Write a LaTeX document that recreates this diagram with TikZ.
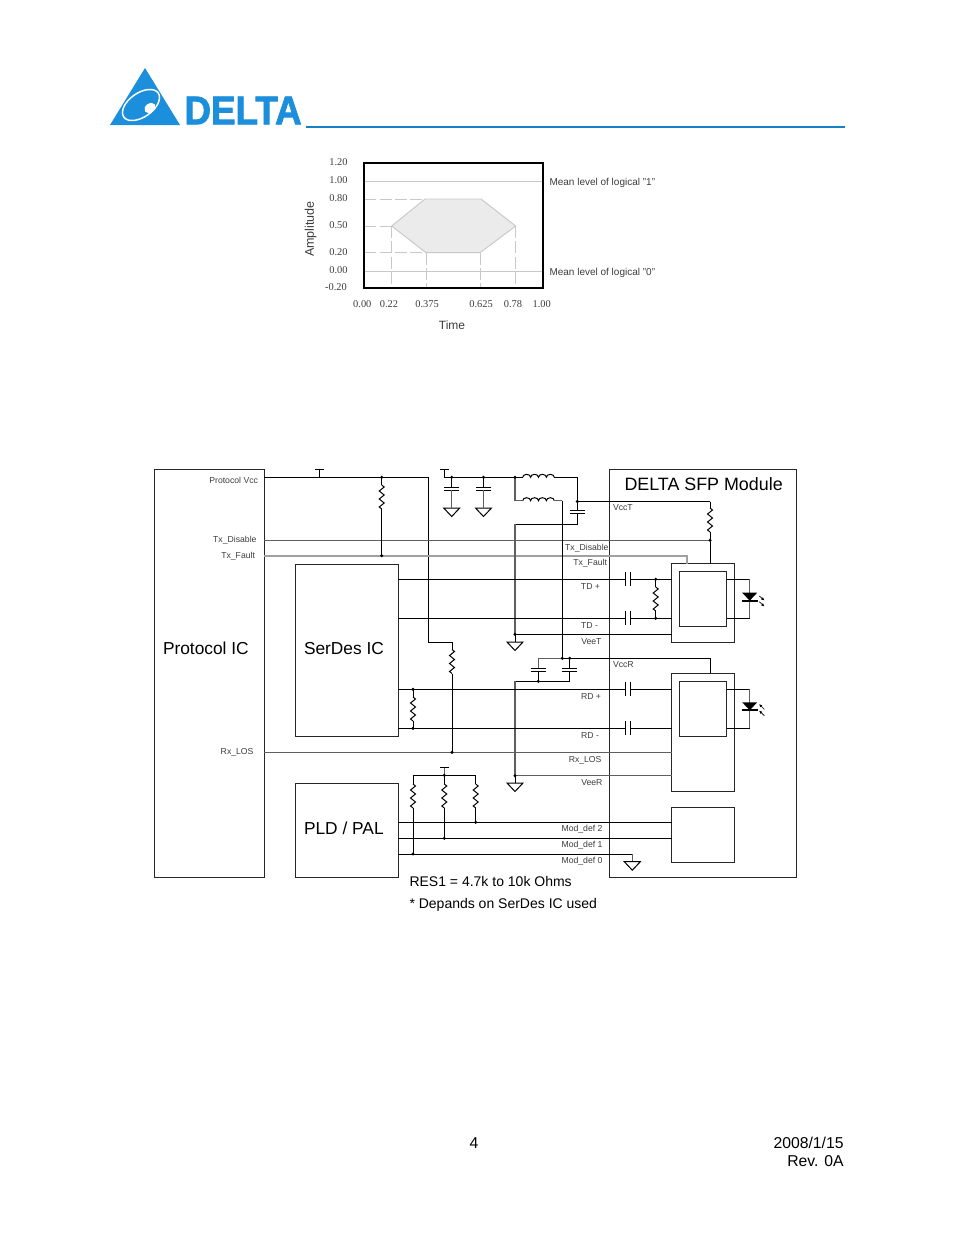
\documentclass[tikz,border=0pt]{standalone}
\usepackage{fontspec}
\setmainfont{Liberation Sans}
\newfontfamily\chartfont{Liberation Serif}
\newfontfamily\logofont[FakeBold=2]{Liberation Sans Bold}
\usetikzlibrary{arrows.meta}

\definecolor{deltablue}{RGB}{27,143,220}
\definecolor{wiregray}{RGB}{95,95,95}
\definecolor{faultgray}{RGB}{160,160,160}
\definecolor{chartgray}{RGB}{200,200,200}
\definecolor{labelgray}{RGB}{60,60,60}

\tikzset{every picture/.style={line width=0.75pt}}
\tikzset{
	wire/.style={draw=black,line width=0.75pt},
	disableline/.style={draw=wiregray,line width=0.9pt},
	faultline/.style={draw=faultgray,line width=1.3pt},
	greyline/.style={draw=wiregray,line width=0.9pt},
	boxnode/.style={draw=black!85,line width=0.7pt,anchor=north west,inner sep=0pt,outer sep=0pt},
	smalltext/.style={font=\fontsize{6.5}{7}\selectfont,text=labelgray,inner sep=0pt},
	bigtext/.style={font=\fontsize{13}{15}\selectfont,anchor=west,inner sep=0pt},
	notetext/.style={font=\fontsize{10.5}{12}\selectfont,anchor=west,inner sep=0pt},
	foottext/.style={font=\fontsize{11.8}{14}\selectfont,inner sep=0pt},
	charttick/.style={font=\chartfont\fontsize{7.8}{9}\selectfont,text=labelgray,inner sep=0pt},
	chartlabel/.style={font=\fontsize{7.5}{9}\selectfont,text=labelgray,anchor=west,inner sep=0pt},
	chartline/.style={draw=chartgray,line width=0.7pt},
	chartdash/.style={draw=chartgray,line width=0.7pt,dash pattern=on 9pt off 2.5pt},
	resv/.pic={
		\draw [wire] (0,0) -- (2.5,2) -- (-2.5,6) -- (2.5,10) -- (-2.5,14) -- (2.5,18) -- (-2.5,22) -- (0,24) ;
		\coordinate (-a) at (0,0);
		\coordinate (-b) at (0,24);
	},
	capv/.pic={
		\draw [wire] (-7.5,-1.5) -- (7.5,-1.5) ;
		\draw [wire] (-7.5,1.5) -- (7.5,1.5) ;
		\coordinate (-a) at (0,-1.5);
		\coordinate (-b) at (0,1.5);
	},
	caph/.pic={
		\draw [wire] (-2.4,-7) -- (-2.4,7) ;
		\draw [wire] (2.4,-7) -- (2.4,7) ;
		\coordinate (-a) at (-2.4,0);
		\coordinate (-b) at (2.4,0);
	},
	gndpic/.pic={
		\draw [wire] (-8,0) -- (8,0) -- (0,8.5) -- cycle ;
	},
	railpic/.pic={
		\draw [wire] (-4.5,0) -- (4.5,0) ;
		\coordinate (-a) at (0,0);
	},
	coilpic/.pic={
		\draw [wire] (0,0) arc (180:360:3.95 and 3) arc (180:360:3.95 and 3) arc (180:360:3.95 and 3) arc (180:360:3.95 and 3) ;
		\coordinate (-a) at (0,0);
		\coordinate (-b) at (31.6,0);
	},
	ledpic/.pic={
		\fill (-7.5,0) -- (7.5,0) -- (0,8) -- cycle ;
		\draw [line width=1.5pt] (-8,8) -- (8,8) ;
	},
}

\begin{document}
\begin{tikzpicture}[x=0.75pt,y=-0.75pt]
	\useasboundingbox (0,0) rectangle (954,1235);

	% Draw logo and header line
	\fill [deltablue] (145,68) -- (180,125) -- (110,125) -- cycle ;
	\draw [white,line width=1.1pt,rotate around={35:(141,105)}] (141,105) ellipse (21 and 12);
	\fill [white,rotate around={35:(150,108)}] (150,108) ellipse (6 and 4.5);
	\node (logotext) [anchor=west,inner sep=0pt,text=deltablue,font=\logofont\fontsize{30}{32}\selectfont,xscale=0.92,transform shape] at (184,110.5) {DELTA};
	\coordinate (headera) at (306,127);
	\coordinate (headerb) at (845,127);
	\draw [deltablue!90!black,line width=1.4pt] (headera) -- (headerb) ;

	% Draw mask chart
	\coordinate (hexa) at (391.7,226);
	\coordinate (hexb) at (425,199);
	\coordinate (hexc) at (481,199);
	\coordinate (hexd) at (515.7,226);
	\coordinate (hexe) at (480,252.7);
	\coordinate (hexf) at (426,252.7);
	\fill [black!8] (hexa) -- (hexb) -- (hexc) -- (hexd) -- (hexe) -- (hexf) -- cycle ;
	\draw [chartline] (hexa) -- (hexb) -- (hexc) -- (hexd) -- (hexe) -- (hexf) -- cycle ;
	\draw [chartline] (364.3,181) -- (543.3,181) ;
	\draw [chartline] (364.3,271) -- (543.3,271) ;
	\draw [chartdash] (364.3,199) -- (hexb) ;
	\draw [chartdash] (364.3,226) -- (hexa) ;
	\draw [chartdash] (364.3,252.7) -- (hexf) ;
	\draw [chartdash] (hexa) -- (391.7,288.3) ;
	\draw [chartdash] (hexf) -- (426,288.3) ;
	\draw [chartdash] (hexe) -- (480,288.3) ;
	\draw [chartdash] (hexd) -- (515.7,288.3) ;
	\node (chartframe) [boxnode,draw=black,line width=1.4pt,minimum width=134.25pt,minimum height=93.75pt] at (364.3,163.3) {};

	\node (ytick1) [charttick] at (338.5,161.7) {1.20};
	\node (ytick2) [charttick] at (338.5,180) {1.00};
	\node (ytick3) [charttick] at (338.5,198) {0.80};
	\node (ytick4) [charttick] at (338.5,225) {0.50};
	\node (ytick5) [charttick] at (338.5,252) {0.20};
	\node (ytick6) [charttick] at (338.5,270) {0.00};
	\node (ytick7) [charttick] at (336,287.5) {-0.20};
	\node (xtick1) [charttick] at (362.3,304) {0.00};
	\node (xtick2) [charttick] at (389,304) {0.22};
	\node (xtick3) [charttick] at (427,304) {0.375};
	\node (xtick4) [charttick] at (481,304) {0.625};
	\node (xtick5) [charttick] at (513,304) {0.78};
	\node (xtick6) [charttick] at (541.7,304) {1.00};
	\node (meanone) [chartlabel] at (549,182.5) {Mean level of logical "1"};
	\node (meanzero) [chartlabel] at (549,272.5) {Mean level of logical "0"};
	\node (timelabel) [font=\fontsize{9}{11}\selectfont,text=labelgray,inner sep=0pt] at (452,325.7) {Time};
	\node (amplabel) [font=\fontsize{9.4}{11}\selectfont,text=labelgray,inner sep=0pt,rotate=90] at (310.7,229) {Amplitude};

	% Draw main blocks
	\node (protocol) [boxnode,minimum width=82.5pt,minimum height=306pt] at (154.7,469.7) {};
	\node (serdes) [boxnode,minimum width=76.9pt,minimum height=129.4pt] at (295.5,564) {};
	\node (pld) [boxnode,minimum width=76.9pt,minimum height=70.6pt] at (295.5,783.5) {};
	\node (module) [boxnode,minimum width=140.8pt,minimum height=306pt] at (609,469.7) {};
	\node (txbox) [boxnode,minimum width=47pt,minimum height=59pt] at (671.7,563.5) {};
	\node (txinner) [boxnode,minimum width=35.5pt,minimum height=41.2pt] at (679.3,571.3) {};
	\node (rxbox) [boxnode,minimum width=47pt,minimum height=88.5pt] at (671.7,673.3) {};
	\node (rxinner) [boxnode,minimum width=35.5pt,minimum height=41.2pt] at (679.3,681.3) {};
	\node (modbox) [boxnode,minimum width=47pt,minimum height=41.2pt] at (671.7,807.3) {};

	% Draw protocol vcc rail
	\coordinate (vcca) at (264.3,477.3);
	\coordinate (vccb) at (428.5,477.3);
	\coordinate (vccc) at (428.5,642);
	\coordinate (vccd) at (452,642);
	\coordinate (losa) at (264.3,752.3);
	\coordinate (losj) at (452,752.3);
	\coordinate (losb) at (671.7,752.3);
	\coordinate (disa) at (264.3,540.3);
	\coordinate (dist) at (710,540.3);
	\coordinate (faua) at (264.3,555.7);
	\coordinate (fauj) at (381.7,555.7);
	\coordinate (faub) at (687,555.7);
	\coordinate (fauc) at (687,563.5);
	\coordinate (vccj) at (381.7,477.3);
	\coordinate (railv) at (319.3,477.3);
	\draw [wire] (vcca) -- (vccb) -- (vccc) -- (vccd) ;
	\pic (rlos) at (452,649.5) {resv};
	\draw [wire] (vccd) -- (rlos-a) ;
	\draw [wire] (rlos-b) -- (losj) ;
	\draw [greyline] (losa) -- (losb) ;
	\draw [disableline] (disa) -- (dist) ;
	\draw [faultline] (faua) -- (faub) -- (fauc) ;
	\pic (rfault) at (381.7,485) {resv};
	\draw [wire] (vccj) -- (rfault-a) ;
	\draw [wire] (rfault-b) -- (fauj) ;
	\pic (railp) at (319.3,469.3) {railpic};
	\draw [wire] (railp-a) -- (railv) ;

	% Draw filter on the tx supply
	\coordinate (fila) at (444.5,477.3);
	\coordinate (filb) at (451.7,477.3);
	\coordinate (filc) at (483.5,477.3);
	\coordinate (fild) at (515,477.3);
	\coordinate (file) at (577.3,477.3);
	\coordinate (filf) at (515,500.7);
	\coordinate (vcct) at (577.3,501.5);
	\coordinate (vcctb) at (710,501.5);
	\coordinate (fila2) at (562.3,500.7);
	\coordinate (filg) at (562.3,658.3);
	\pic (railf) at (444.5,469) {railpic};
	\draw [wire] (railf-a) -- (fila) -- (fild) ;
	\pic (cfa) at (451.7,488.8) {capv};
	\pic (cfb) at (483.5,488.8) {capv};
	\pic (gfa) at (451.7,508) {gndpic};
	\pic (gfb) at (483.5,508) {gndpic};
	\draw [wire] (filb) -- (cfa-a) ;
	\draw [wire] (filc) -- (cfb-a) ;
	\draw [greyline] (cfa-b) -- (451.7,508) ;
	\draw [greyline] (cfb-b) -- (483.5,508) ;
	\pic (coila) at (522.7,477.3) {coilpic};
	\pic (coilb) at (522.7,500.7) {coilpic};
	\draw [wire] (fild) -- (coila-a) ;
	\draw [wire] (coila-b) -- (file) -- (vcct) -- (vcctb) ;
	\draw [greyline] (fild) -- (filf) -- (coilb-a) ;
	\draw [greyline] (coilb-b) -- (fila2) ;
	\draw [wire] (fila2) -- (filg) ;

	% Draw vcc and vee of the module
	\pic (cvt) at (577.3,512.4) {capv};
	\coordinate (veea) at (577.3,524.3);
	\coordinate (veeb) at (515,524.3);
	\coordinate (veet) at (515,634.3);
	\coordinate (veetb) at (671.7,634.3);
	\coordinate (vcta) at (710,563.5);
	\draw [wire] (vcct) -- (cvt-a) ;
	\draw [wire] (cvt-b) -- (veea) -- (veeb) ;
	\draw [greyline] (veeb) -- (veet) ;
	\draw [wire] (veet) -- (veetb) ;
	\pic (gvt) at (515,642) {gndpic};
	\draw [wire] (veet) -- (515,642) ;
	\pic (rvt) at (710,508) {resv};
	\draw [wire] (vcctb) -- (rvt-a) ;
	\draw [wire] (rvt-b) -- (vcta) ;

	% Draw vccr and veer
	\coordinate (vcra) at (538.3,658.3);
	\coordinate (vcrb) at (569.7,658.3);
	\coordinate (vcrc) at (710,658.3);
	\coordinate (vcrd) at (710,673.3);
	\coordinate (vcre) at (538.3,681.3);
	\coordinate (vcrf) at (569.7,681.3);
	\coordinate (vcrg) at (515,681.3);
	\coordinate (veer) at (515,775.7);
	\coordinate (veerb) at (671.7,775.7);
	\draw [greyline] (vcra) -- (filg) ;
	\draw [wire] (filg) -- (vcrb) -- (vcrc) -- (vcrd) ;
	\pic (cra) at (538.3,669.8) {capv};
	\pic (crb) at (569.7,669.8) {capv};
	\draw [greyline] (vcra) -- (cra-a) ;
	\draw [wire] (vcrb) -- (crb-a) ;
	\draw [wire] (cra-b) -- (vcre) ;
	\draw [wire] (crb-b) -- (vcrf) -- (vcrg) ;
	\draw [greyline] (vcrg) -- (veer) ;
	\draw [greyline] (veer) -- (veerb) ;
	\pic (gvr) at (515,783) {gndpic};
	\draw [wire] (veer) -- (515,783) ;

	% Draw data lines
	\coordinate (tdpa) at (398,579.3);
	\coordinate (tdpj) at (655.7,579.3);
	\coordinate (tdpb) at (671.7,579.3);
	\coordinate (tdma) at (398,618.3);
	\coordinate (tdmj) at (655.7,618.3);
	\coordinate (tdmb) at (671.7,618.3);
	\pic (ctp) at (628.3,579.3) {caph};
	\pic (ctm) at (628.3,618.3) {caph};
	\draw [wire] (tdpa) -- (ctp-a) ;
	\draw [wire] (ctp-b) -- (tdpb) ;
	\draw [wire] (tdma) -- (ctm-a) ;
	\draw [wire] (ctm-b) -- (tdmb) ;
	\pic (rtd) at (655.7,587) {resv};
	\draw [wire] (tdpj) -- (rtd-a) ;
	\draw [wire] (rtd-b) -- (tdmj) ;

	\coordinate (rdpa) at (398,689.3);
	\coordinate (rdpj) at (413,689.3);
	\coordinate (rdpb) at (671.7,689.3);
	\coordinate (rdma) at (398,728.3);
	\coordinate (rdmj) at (413,728.3);
	\coordinate (rdmb) at (671.7,728.3);
	\pic (crp) at (628.3,689.3) {caph};
	\pic (crm) at (628.3,728.3) {caph};
	\draw [wire] (rdpa) -- (crp-a) ;
	\draw [wire] (crp-b) -- (rdpb) ;
	\draw [wire] (rdma) -- (crm-a) ;
	\draw [wire] (crm-b) -- (rdmb) ;
	\pic (rrd) at (413,697) {resv};
	\draw [wire] (rdpj) -- (rrd-a) ;
	\draw [wire] (rrd-b) -- (rdmj) ;

	% Draw laser and photo diode
	\coordinate (leda) at (726.7,579.3);
	\coordinate (ledb) at (749.7,579.3);
	\coordinate (ledc) at (749.7,618.3);
	\coordinate (ledd) at (726.7,618.3);
	\draw [wire] (leda) -- (ledb) ;
	\draw [greyline] (ledb) -- (ledc) ;
	\draw [wire] (ledc) -- (ledd) ;
	\pic (laser) at (749.7,592.7) {ledpic};
	\coordinate (pdaa) at (726.7,689.3);
	\coordinate (pdab) at (749.7,689.3);
	\coordinate (pdac) at (749.7,728.3);
	\coordinate (pdad) at (726.7,728.3);
	\draw [wire] (pdaa) -- (pdab) ;
	\draw [greyline] (pdab) -- (pdac) ;
	\draw [wire] (pdac) -- (pdad) ;
	\pic (photo) at (749.7,702.3) {ledpic};
	\draw [line width=0.5pt,-{Latex[length=2.5pt,width=2.2pt]}] (759.3,596) -- (764.5,600.5) ;
	\draw [line width=0.5pt,-{Latex[length=2.5pt,width=2.2pt]}] (759.3,601.7) -- (764.5,606.5) ;
	\draw [line width=0.5pt,-{Latex[length=2.5pt,width=2.2pt]}] (764.3,709.3) -- (759,704) ;
	\draw [line width=0.5pt,-{Latex[length=2.5pt,width=2.2pt]}] (764.3,715.7) -- (759,710.5) ;

	% Draw mod def lines
	\coordinate (moda) at (398,822.3);
	\coordinate (modj) at (475.7,822.3);
	\coordinate (modb) at (671.7,822.3);
	\coordinate (mobc) at (398,838.3);
	\coordinate (mobj) at (444.3,838.3);
	\coordinate (mobd) at (671.7,838.3);
	\coordinate (moce) at (398,854);
	\coordinate (mocj) at (413,854);
	\coordinate (mocf) at (632.3,854);
	\coordinate (mocg) at (632.3,861.7);
	\coordinate (modt1) at (413,775.3);
	\coordinate (modt2) at (444.3,775.3);
	\coordinate (modt3) at (475.7,775.3);
	\draw [wire] (moda) -- (modb) ;
	\draw [wire] (mobc) -- (mobd) ;
	\draw [wire] (moce) -- (mocf) ;
	\draw [greyline] (mocf) -- (mocg) ;
	\pic (gmod) at (632.3,861.7) {gndpic};
	\pic (railm) at (444.3,767.7) {railpic};
	\draw [greyline] (railm-a) -- (modt2) ;
	\draw [wire] (modt1) -- (modt3) ;
	\pic (rma) at (413,784) {resv};
	\pic (rmb) at (444.3,784) {resv};
	\pic (rmc) at (475.7,784) {resv};
	\draw [wire] (modt1) -- (rma-a) ;
	\draw [wire] (modt2) -- (rmb-a) ;
	\draw [wire] (modt3) -- (rmc-a) ;
	\draw [wire] (rma-b) -- (mocj) ;
	\draw [wire] (rmb-b) -- (mobj) ;
	\draw [wire] (rmc-b) -- (modj) ;

	% Draw junction dots
	\foreach \p in {vccj,fauj,losj,filb,filc,fild,vcct,filg,vcre,vcrb,veet,veer,dist,tdpj,tdmj,rdpj,rdmj,mocj,mobj,modj,modt2}
		\fill (\p) circle (1.7);

	% Add text nodes
	\node (protoname) [bigtext] at (162.5,648.5) {Protocol IC};
	\node (serdesname) [bigtext] at (303.5,648.5) {SerDes IC};
	\node (pldname) [bigtext] at (303.5,828.5) {PLD / PAL};
	\node (modname) [bigtext,font=\fontsize{13.4}{15}\selectfont] at (624,484) {DELTA SFP Module};

	\node (lvcc) [smalltext,anchor=east] at (258.5,480.5) {Protocol Vcc};
	\node (ldisa) [smalltext,anchor=east] at (257,540) {Tx\_Disable};
	\node (lfaua) [smalltext,anchor=east] at (255.5,556) {Tx\_Fault};
	\node (llosa) [smalltext,anchor=east] at (254,752) {Rx\_LOS};
	\node (ldisb) [smalltext,anchor=east] at (609,548) {Tx\_Disable};
	\node (lfaub) [smalltext,anchor=east] at (607.5,563) {Tx\_Fault};
	\node (ltdp) [smalltext,anchor=east] at (600.5,586.5) {TD +};
	\node (ltdm) [smalltext,anchor=east] at (598.5,625.5) {TD -};
	\node (lveet) [smalltext,anchor=east] at (602,641.5) {VeeT};
	\node (lrdp) [smalltext,anchor=east] at (601.5,696.5) {RD +};
	\node (lrdm) [smalltext,anchor=east] at (599.5,735.5) {RD -};
	\node (llosb) [smalltext,anchor=east] at (602,760) {Rx\_LOS};
	\node (lveer) [smalltext,anchor=east] at (603,782.5) {VeeR};
	\node (lmodb) [smalltext,anchor=east] at (603,829.5) {Mod\_def 2};
	\node (lmoda) [smalltext,anchor=east] at (603,845.5) {Mod\_def 1};
	\node (lmodz) [smalltext,anchor=east] at (603,861.5) {Mod\_def 0};
	\node (lvcct) [smalltext,anchor=west] at (612.5,507.5) {VccT};
	\node (lvccr) [smalltext,anchor=west] at (612.5,664.5) {VccR};

	\node (noteres) [notetext] at (409,881.5) {RES1 = 4.7k to 10k Ohms};
	\node (notedep) [notetext] at (409,905) {* Depands on SerDes IC used};

	\node (pagenum) [foottext] at (474,1143) {4};
	\node (pagedate) [foottext,anchor=east] at (844,1143) {2008/1/15};
	\node (pagerev) [foottext,anchor=east] at (844,1161) {Rev. 0A};
\end{tikzpicture}
\end{document}
